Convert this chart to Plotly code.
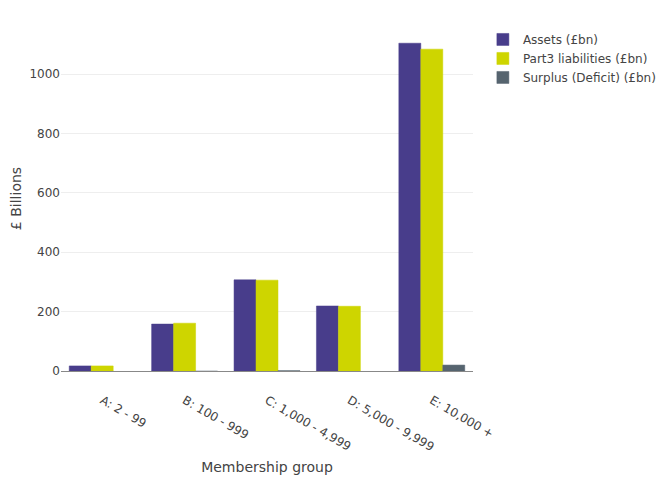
import plotly.graph_objects as go

categories = ["A: 2 - 99", "B: 100 - 999", "C: 1,000 - 4,999", "D: 5,000 - 9,999", "E: 10,000 +"]
assets = [17, 158, 307, 219, 1104]
liabilities = [17, 161, 306, 218, 1084]
surplus = [None, -3, 1, None, 20]

series = [
    ("Assets (£bn)", assets, "rgb(72,61,139)", "rgba(72,61,139,0.5)"),
    ("Part3 liabilities (£bn)", liabilities, "rgb(206,213,0)", "rgba(206,213,0,0.5)"),
    ("Surplus (Deficit) (£bn)", surplus, "rgb(86,100,111)", "rgba(86,100,111,0.5)"),
]

fig = go.Figure()
for name, vals, col, lcol in series:
    fig.add_trace(go.Bar(x=categories, y=vals, name=name,
                         marker=dict(color=col, line=dict(color=lcol, width=1))))

fig.update_layout(
    width=672, height=480,
    barmode="group",
    bargap=0.2,
    paper_bgcolor="white", plot_bgcolor="white",
    font=dict(family="DejaVu Sans, Verdana, sans-serif", color="#444", size=12),
    margin=dict(l=53, r=207, t=18, b=117),
    legend=dict(x=1.024, y=1.003, xanchor="left", yanchor="top"),
    xaxis=dict(title=dict(text="Membership group", standoff=9), tickangle=30, automargin=False,
               ticklabelstandoff=17,
               showline=True, linecolor="#888", linewidth=1),
    yaxis=dict(title=dict(text="£ Billions", standoff=4), gridcolor="#eee", automargin=False,
               range=[0, 1162], zeroline=True, zerolinecolor="#888", zerolinewidth=1,
               dtick=200),
)
fig.write_html("out.html")
